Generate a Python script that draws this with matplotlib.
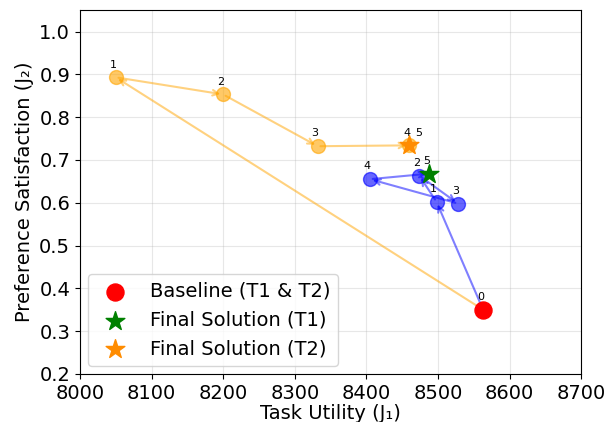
import numpy as np
import matplotlib.pyplot as plt

# iteration trajectories (step 0 = baseline)
t1_utility = [8563, 8498, 8474, 8528, 8405, 8488]
t1_pref = [0.350, 0.602, 0.663, 0.598, 0.655, 0.668]
t2_utility = [8563, 8050, 8200, 8332, 8460, 8460]
t2_pref = [0.350, 0.893, 0.853, 0.732, 0.734, 0.734]
steps = ['0', '1', '2', '3', '4', '5']

fig = plt.figure(figsize=(6.15, 4.22), dpi=100)
ax = fig.add_axes([0.130, 0.114, 0.815, 0.862])


def draw_path(xs, ys, color):
    for i in range(1, len(xs)):
        ax.annotate('', xy=(xs[i], ys[i]), xytext=(xs[i-1], ys[i-1]),
                    arrowprops=dict(arrowstyle='->', color=color, alpha=0.5, lw=1.5))
    ax.scatter(xs[1:-1], ys[1:-1], s=100, color=color, alpha=0.6, zorder=3)


draw_path(t2_utility, t2_pref, 'orange')
draw_path(t1_utility, t1_pref, 'blue')

ax.scatter(t1_utility[0], t1_pref[0], s=150, color='red', zorder=4, label='Baseline (T1 & T2)')
ax.scatter(t1_utility[-1], t1_pref[-1], s=200, marker='*', color='green', zorder=4,
           label='Final Solution (T1)')
ax.scatter(t2_utility[-1], t2_pref[-1], s=200, marker='*', color='darkorange', zorder=4,
           label='Final Solution (T2)')

# step numbers
for i, s in enumerate(steps):
    ax.annotate(s, (t1_utility[i], t1_pref[i]), xytext=(-2, 7), textcoords='offset points',
                ha='center', fontsize=8)
    if i == 0:
        continue
    dx = 7 if i == 5 else -2
    ax.annotate(s, (t2_utility[i], t2_pref[i]), xytext=(dx, 7), textcoords='offset points',
                ha='center', fontsize=8)

ax.set_xlim(8000, 8700)
ax.set_ylim(0.2, 1.05)
ax.set_yticks(np.arange(0.2, 1.01, 0.1))
ax.set_xlabel('Task Utility (J₁)', fontsize=14, labelpad=1)
ax.set_ylabel('Preference Satisfaction (J₂)', fontsize=14)
ax.tick_params(labelsize=14)
ax.grid(alpha=0.3)
ax.legend(loc='lower left', fontsize=14, scatterpoints=1, borderaxespad=0.4)

plt.savefig('out.png', dpi=100)
